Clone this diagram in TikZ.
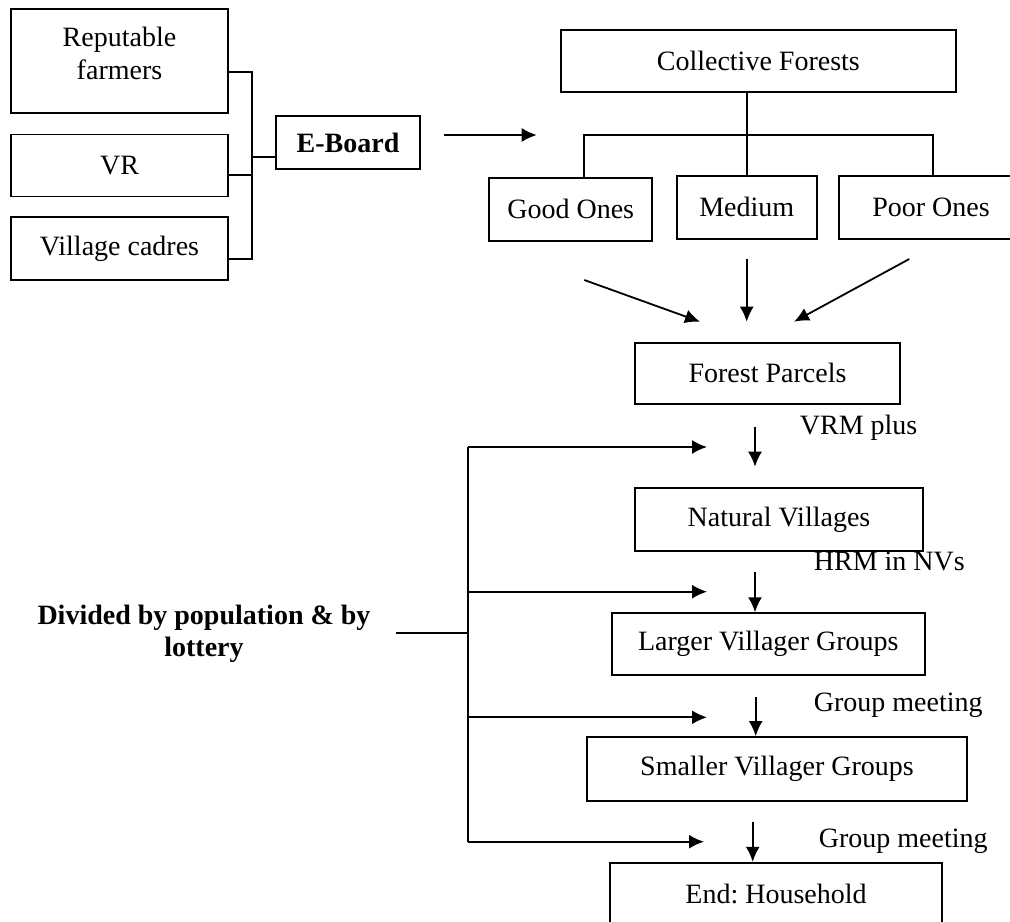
\documentclass[tikz,border=0pt]{standalone}
\usepackage{fontspec}
\setmainfont{Liberation Serif}
\usetikzlibrary{arrows.meta}
\begin{document}
\begin{tikzpicture}[x=0.5pt, y=-0.5pt, line width=0.9pt,
        font=\fontsize{14}{16.5}\selectfont\frenchspacing,
        >={Latex[length=7.5pt,width=7pt]},
        box/.style={draw, inner sep=0pt, align=center},
        lbl/.style={anchor=west, inner sep=0pt}]
    \useasboundingbox (0,0) rectangle (1010,921);
    % who decides
    \node[box, minimum width=108.5pt, minimum height=52pt, text depth=8pt] (rep) at (119.5,61) {Reputable\\farmers};
    \node[box, minimum width=108.5pt, minimum height=31pt] (vr) at (119.5,165.5) {VR};
    \node[box, minimum width=108.5pt, minimum height=31.5pt] (cad) at (119.5,248.5) {Village cadres};
    \node[box, minimum width=72pt, minimum height=26.5pt, font=\fontsize{14}{16.5}\selectfont\bfseries] (eb) at (348,142.5) {E-Board};
    \coordinate (jt) at (252,72); \coordinate (jv) at (252,175); \coordinate (jb) at (252,259); \coordinate (je) at (252,157);
    \draw (jt -| rep.east) -- (jt) -- (jb) -- (jb -| cad.east);
    \draw (jv -| vr.east) -- (jv);
    \draw (je) -- (je -| eb.west);
    \coordinate (ea) at (444,135); \coordinate (ez) at (536.7,135);
    \draw[->] (ea) -- (ez);
    % forests
    \node[box, minimum width=197.5pt, minimum height=31pt] (cf) at (758.3,61) {Collective Forests};
    \node[box, minimum width=81.5pt, minimum height=31.3pt] (good) at (570.7,209.3) {Good Ones};
    \node[box, minimum width=70pt, minimum height=31.3pt] (med) at (746.7,207.3) {Medium};
    \node[box, minimum width=92pt, minimum height=31.3pt] (poor) at (931,207.3) {Poor Ones};
    \coordinate (hl) at (584.3,134.7); \coordinate (hr) at (932.7,134.7);
    \draw (med.north |- cf.south) -- (med.north);
    \draw (hl |- good.north) -- (hl) -- (hr) -- (hr |- poor.north);
    \coordinate (g1) at (584.3,280); \coordinate (g2) at (700,321.7);
    \coordinate (m1) at (746.7,259); \coordinate (m2) at (746.7,321.7);
    \coordinate (p1) at (909.3,259); \coordinate (p2) at (794,321.7);
    \draw[->] (g1) -- (g2);
    \draw[->] (m1) -- (m2);
    \draw[->] (p1) -- (p2);
    % down the chain
    \node[box, minimum width=132.5pt, minimum height=30.7pt] (fp) at (767.5,373.3) {Forest Parcels};
    \node[box, minimum width=144pt, minimum height=31.3pt] (nv) at (779,519.3) {Natural Villages};
    \node[box, minimum width=156.7pt, minimum height=30.8pt] (lvg) at (768.3,644) {Larger Villager Groups};
    \node[box, minimum width=190pt, minimum height=32pt] (svg) at (777,769) {Smaller Villager Groups};
    \node[box, minimum width=166pt, minimum height=31pt] (hh) at (776,893.7) {End: Household};
    \coordinate (a1) at (755,426.7); \coordinate (a2) at (755,466.7);
    \coordinate (b1) at (755,571.7); \coordinate (c1) at (755.7,696.7); \coordinate (d1) at (752.7,821.7);
    \draw[->] (a1) -- (a2);
    \draw[->] (b1) -- (b1 |- lvg.north);
    \draw[->] (c1) -- (c1 |- svg.north);
    \draw[->] (d1) -- (d1 |- hh.north);
    \node[lbl] (vrm) at (799,428) {VRM plus};
    \node[lbl] (hrm) at (813,561.7) {HRM in NVs};
    \node[lbl] (gm1) at (813,705) {Group meeting};
    \node[lbl] (gm2) at (818,841.7) {Group meeting};
    % lottery rail
    \node[align=center, font=\fontsize{14}{16}\selectfont\bfseries] (div) at (204,634) {Divided by population \& by\\lottery};
    \coordinate (rt) at (468,447); \coordinate (rb) at (468,841.7); \coordinate (dl) at (396,633.3);
    \draw (rt) -- (rb);
    \draw (dl) -- (dl -| rt);
    \foreach \y/\e [count=\i] in {447/707, 591.7/707, 717.3/707, 841.7/704} {
        \coordinate (r\i) at (468,\y); \coordinate (s\i) at (\e,\y);
        \draw[->] (r\i) -- (s\i);
    }
\end{tikzpicture}
\end{document}
